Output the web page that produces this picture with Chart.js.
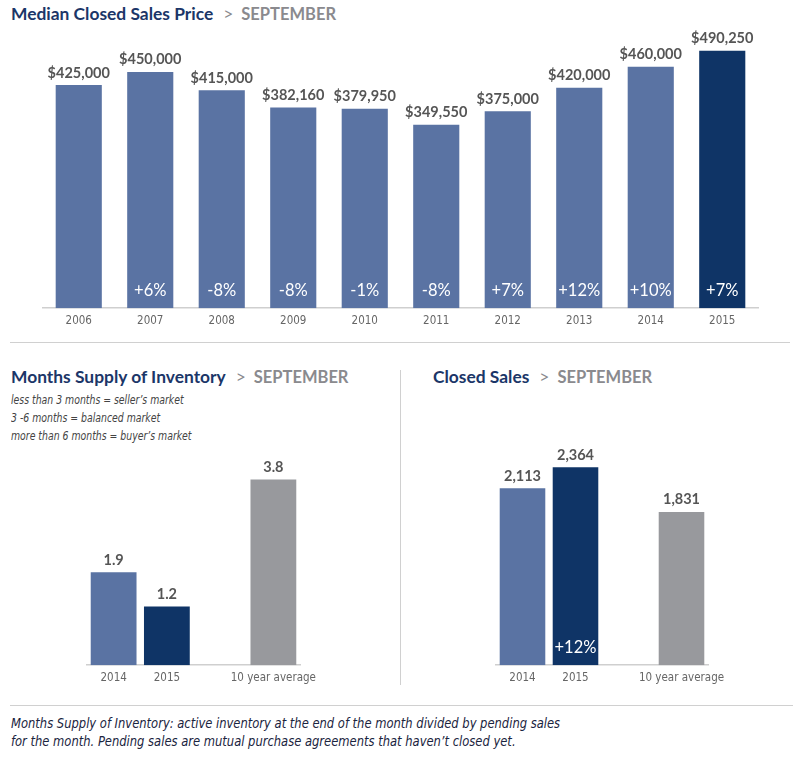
<!DOCTYPE html>
<html>
<head>
<meta charset="utf-8">
<script src="https://cdn.jsdelivr.net/npm/chart.js"></script>
<style>
  html, body { margin: 0; padding: 0; background: #fff; }
  body { width: 793px; height: 761px; position: relative; overflow: hidden; font-family: Lato, "Open Sans", sans-serif; }
  .title { position: absolute; font-weight: bold; font-size: 17.4px; color: #1b3668; white-space: nowrap; }
  .title .gt { color: #8a8a8e; font-weight: normal; margin: 0 8px 0 10px; }
  .title .month { color: #8a8a8e; font-size: 16.5px; }
  .note { position: absolute; left: 11px; font-family: "DejaVu Sans Condensed", sans-serif; font-style: italic; color: #444; font-size: 12.5px; line-height: 18px; white-space: nowrap; transform: scaleX(0.83); transform-origin: left top; }
  .foot { position: absolute; left: 11px; top: 714px; font-family: "DejaVu Sans Condensed", sans-serif; font-style: italic; color: #1a2440; font-size: 13.5px; line-height: 18px; white-space: nowrap; transform: scaleX(0.95); transform-origin: left top; }
  .rule { position: absolute; background: #d0d0d0; }
  canvas { position: absolute; }
  .box { position: absolute; }
</style>
</head>
<body>
<div class="title" style="left:11px; top:3px;">Median Closed Sales Price<span class="gt">&gt;</span><span class="month">SEPTEMBER</span></div>
<div class="box" style="left:0; top:0; width:793px; height:334px;"><canvas id="priceChart"></canvas></div>
<div class="rule" style="left:10px; top:342px; width:780px; height:1px;"></div>

<div class="title" style="left:11px; top:366px;">Months Supply of Inventory<span class="gt">&gt;</span><span class="month">SEPTEMBER</span></div>
<div class="note" style="top:391px;">less than 3 months = seller’s market<br>3 -6 months = balanced market<br>more than 6 months = buyer’s market</div>
<div class="box" style="left:0; top:430px; width:400px; height:261px;"><canvas id="supplyChart"></canvas></div>

<div class="rule" style="left:400px; top:370px; width:1px; height:315px;"></div>

<div class="title" style="left:433px; top:366px;">Closed Sales<span class="gt">&gt;</span><span class="month">SEPTEMBER</span></div>
<div class="box" style="left:400px; top:430px; width:393px; height:261px;"><canvas id="salesChart"></canvas></div>

<div class="rule" style="left:10px; top:705px; width:783px; height:1px;"></div>
<div class="foot">Months Supply of Inventory: active inventory at the end of the month divided by pending sales<br>for the month. Pending sales are mutual purchase agreements that haven’t closed yet.</div>

<script>
// Median closed sales price
const priceYears = ['2006', '2007', '2008', '2009', '2010', '2011', '2012', '2013', '2014', '2015'];
const priceValues = [425000, 450000, 415000, 382160, 379950, 349550, 375000, 420000, 460000, 490250];
const priceChange = ['', '+6%', '-8%', '-8%', '-1%', '-8%', '+7%', '+12%', '+10%', '+7%'];

// Months supply of inventory (third slot is an empty gap)
const supplyLabels = ['2014', '2015', '', '10 year average'];
const supplyValues = [1.9, 1.2, null, 3.8];

// Closed sales
const salesLabels = ['2014', '2015', '', '10 year average'];
const salesValues = [2113, 2364, null, 1831];
const salesChange = ['', '+12%', '', ''];

const BLUE = '#5a73a3';
const NAVY = '#0f3466';
const GRAY = '#98999d';

const barLabels = {
    id: 'barLabels',
    afterDatasetsDraw(chart, args, opts) {
        const ctx = chart.ctx;
        const meta = chart.getDatasetMeta(0);
        const data = chart.data.datasets[0].data;
        meta.data.forEach((bar, i) => {
            if (data[i] == null) return;
            ctx.save();
            ctx.textAlign = 'center';
            ctx.font = 'bold 14.5px Lato';
            ctx.fillStyle = '#555';
            ctx.textBaseline = 'bottom';
            ctx.fillText(opts.format(data[i]), bar.x, bar.y - 5);
            const inner = opts.inside ? opts.inside[i] : '';
            if (inner) {
                ctx.font = '16.5px Lato';
                ctx.fillStyle = '#fff';
                ctx.textBaseline = 'middle';
                ctx.fillText(inner, bar.x, bar.base - 18);
            }
            ctx.restore();
        });
    }
};

function makeBarChart(id, labels, values, colors, yMax, pad, barPct, labelOpts) {
    return new Chart(document.getElementById(id), {
        type: 'bar',
        data: {
            labels: labels,
            datasets: [{
                data: values,
                backgroundColor: colors,
                barPercentage: barPct,
                categoryPercentage: 1
            }]
        },
        options: {
            responsive: true,
            maintainAspectRatio: false,
            animation: false,
            layout: { padding: pad },
            plugins: {
                legend: { display: false },
                tooltip: { enabled: false },
                barLabels: labelOpts
            },
            scales: {
                x: {
                    grid: { display: false, drawTicks: false },
                    border: { display: true, color: '#cfcfcf', width: 1.5 },
                    ticks: {
                        padding: 6,
                        maxRotation: 0,
                        autoSkip: false,
                        color: '#666',
                        font: { family: '"Liberation Sans Narrow", "DejaVu Sans Condensed", sans-serif', size: 11.5 }
                    }
                },
                y: { display: false, min: 0, max: yMax }
            }
        },
        plugins: [barLabels]
    });
}

makeBarChart('priceChart', priceYears, priceValues,
    priceValues.map((v, i) => i === priceValues.length - 1 ? NAVY : BLUE),
    530000, { top: 30, left: 43, right: 35, bottom: 0 }, 0.645,
    { format: v => '$' + v.toLocaleString('en-US'), inside: priceChange });

makeBarChart('supplyChart', supplyLabels, supplyValues, [BLUE, NAVY, GRAY, GRAY],
    4.2, { top: 30, left: 87, right: 100, bottom: 0 }, 0.86,
    { format: v => v.toFixed(1) });

makeBarChart('salesChart', salesLabels, salesValues, [BLUE, NAVY, GRAY, GRAY],
    2452, { top: 30, left: 96, right: 85, bottom: 0 }, 0.86,
    { format: v => v.toLocaleString('en-US'), inside: salesChange });
</script>
</body>
</html>
